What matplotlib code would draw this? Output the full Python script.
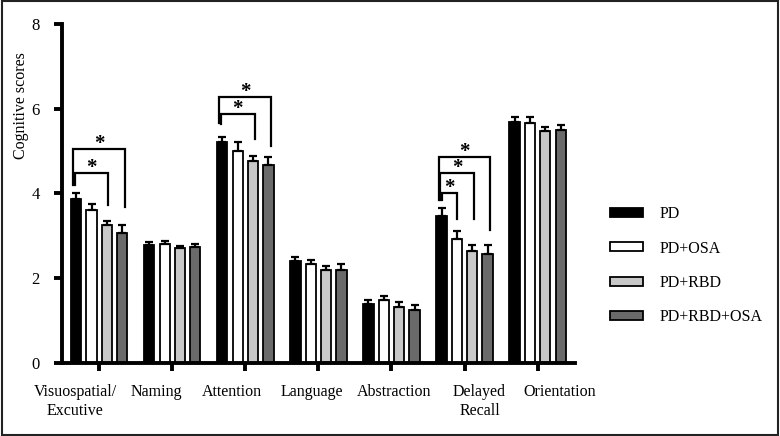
import matplotlib
matplotlib.use("Agg")
import matplotlib.pyplot as plt
import matplotlib.transforms as mtransforms
import numpy as np
from matplotlib.patches import Rectangle

plt.rcParams['font.family'] = ['Liberation Serif', 'DejaVu Serif']

categories = ["Visuospatial/\nExcutive", "Naming", "Attention", "Language",
              "Abstraction", "Delayed\nRecall", "Orientation"]
groups = ["PD", "PD+OSA", "PD+RBD", "PD+RBD+OSA"]
pd_vals = [3.86, 2.79, 5.21, 2.40, 1.40, 3.48, 5.68]
pd_err = [0.14, 0.06, 0.12, 0.10, 0.08, 0.18, 0.12]
osa_vals = [3.60, 2.81, 5.00, 2.34, 1.48, 2.92, 5.67]
osa_err = [0.16, 0.08, 0.21, 0.08, 0.10, 0.19, 0.14]
rbd_vals = [3.25, 2.71, 4.76, 2.20, 1.33, 2.64, 5.48]
rbd_err = [0.11, 0.05, 0.12, 0.09, 0.10, 0.15, 0.10]
rbdosa_vals = [3.07, 2.73, 4.67, 2.20, 1.25, 2.58, 5.50]
rbdosa_err = [0.18, 0.08, 0.18, 0.14, 0.11, 0.20, 0.12]

# significance brackets: (category index, bar i, bar j, bracket height, left leg bottom, right leg bottom)
brackets = [
    (0, 0, 2, 4.49, 4.19, 3.72),
    (0, 0, 3, 5.06, 4.19, 3.67),
    (2, 0, 2, 5.88, 5.65, 5.29),
    (2, 0, 3, 6.28, 5.67, 5.11),
    (5, 0, 1, 4.02, 3.84, 3.39),
    (5, 0, 2, 4.49, 3.84, 3.39),
    (5, 0, 3, 4.87, 3.84, 3.15),
]

vals = [pd_vals, osa_vals, rbd_vals, rbdosa_vals]
errs = [pd_err, osa_err, rbd_err, rbdosa_err]
colors = ["#000000", "#ffffff", "#c8c8c8", "#6a6a6a"]

fig = plt.figure(figsize=(7.8, 4.36), dpi=100)
ax = fig.add_axes([0.0795, 0.1674, 0.6575, 0.7776])

x = np.arange(len(categories))
offsets = np.array([-1.5, -0.5, 0.5, 1.5]) * 0.21
width = 0.14
for k in range(4):
    ax.bar(x + offsets[k], vals[k], width, color=colors[k], edgecolor="black",
           linewidth=1.3, label=groups[k], zorder=2)
    ax.errorbar(x + offsets[k], vals[k], yerr=[np.zeros(len(x)), errs[k]],
                fmt="none", ecolor="black", elinewidth=1.6, capsize=3,
                capthick=1.6, zorder=3)

for (c, i, j, h, lb, rb) in brackets:
    xl = x[c] + offsets[i] - 0.02 * (j - 1)
    xr = x[c] + offsets[j] + 0.02 * (j - 1)
    ax.plot([xl, xl, xr, xr], [lb, h, h, rb], color="black", lw=1.6,
            solid_joinstyle="miter", zorder=4)
    ax.text((xl + xr) / 2, h - 0.01, "*", ha="center", va="baseline",
            fontsize=15, fontweight="bold")

ax.set_xlim(-0.51, 6.51)
ax.set_ylim(0, 8)
ax.set_yticks([0, 2, 4, 6, 8])
ax.set_yticklabels(["0", "2", "4", "6", "8"])
ax.set_xticks(x)
ax.set_xticklabels([])
# category labels (in the original they sit slightly spread out from the ticks)
label_shift_px = [-24, -16, -13, -7, 3, 15, 22]
for xi, lab, dx in zip(x, categories, label_shift_px):
    tr = ax.get_xaxis_transform() + mtransforms.ScaledTranslation(
        dx / 100, -0.21, fig.dpi_scale_trans)
    ax.text(xi, 0, lab, transform=tr, ha="center", va="top", fontsize=11.5,
            linespacing=1.25)
ax.set_ylabel("Cognitive scores", fontsize=11.5)
ax.yaxis.set_label_coords(-0.065, 0.758)
for s in ["top", "right"]:
    ax.spines[s].set_visible(False)
for s in ["left", "bottom"]:
    ax.spines[s].set_linewidth(2.8)
ax.tick_params(axis="both", width=2.8, length=6, labelsize=12, direction="out")
ax.tick_params(axis="y", pad=10)

leg = ax.legend(loc="center left", bbox_to_anchor=(1.04, 0.287), frameon=False,
                fontsize=11.5, handlelength=2.06, handleheight=0.5,
                labelspacing=1.15, handletextpad=1.05)
for p in leg.get_patches():
    p.set_linewidth(1.3)

fig.patches.append(Rectangle((0.002, 0.003), 0.996, 0.994, transform=fig.transFigure,
                             fill=False, edgecolor="#222222", linewidth=1.5))

fig.savefig("out.png", dpi=100)
